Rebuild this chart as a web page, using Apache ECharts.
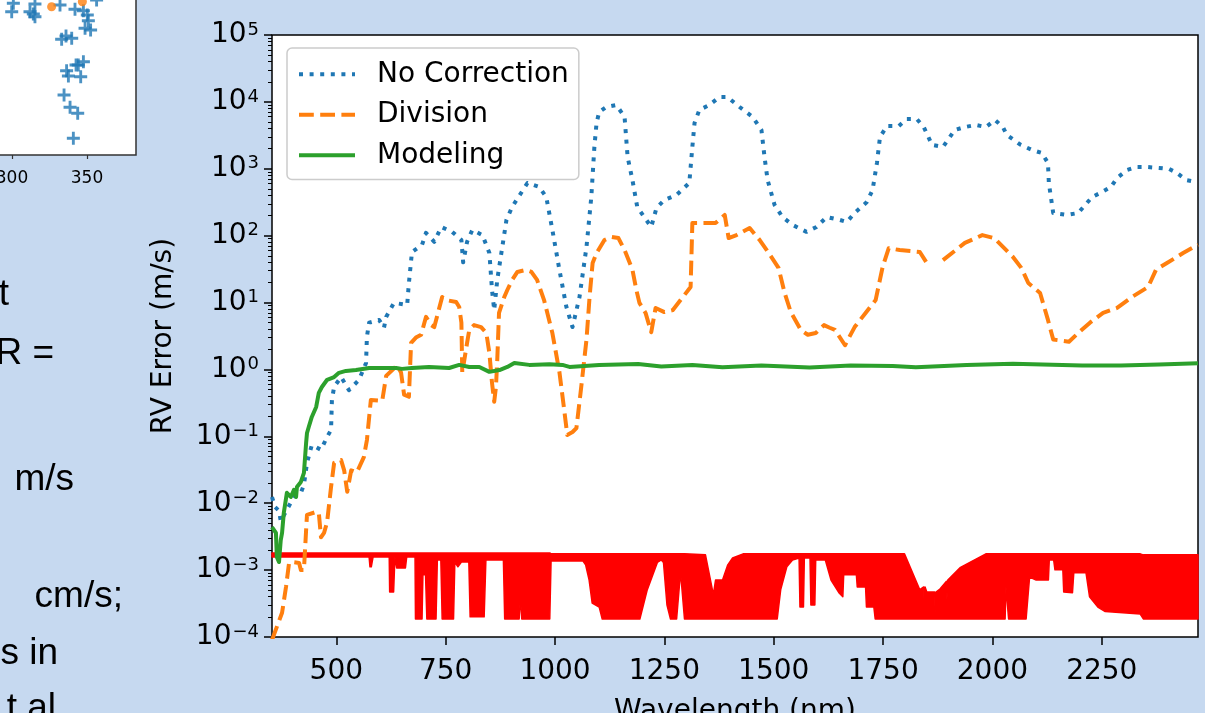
<!DOCTYPE html>
<html>
<head>
<meta charset="utf-8">
<title>RV error vs wavelength</title>
<script src="https://cdn.jsdelivr.net/npm/echarts@6/dist/echarts.min.js"></script>
<style>
  html, body { margin: 0; padding: 0; background: #c6d9f0; }
  #chart { width: 1205px; height: 713px; }
</style>
</head>
<body>
<div id="chart"></div>
<script>
// values: wavelength in nm, RV error in m/s
const noCorrWl = [353,360,369,373,403,419,426,433,444,465,479,488,490,495,511,529,552,568,570,575,
  598,609,614,632,662,666,673,696,705,724,740,765,786,790,799,811,834,850,856,861,
  868,889,902,937,964,980,994,1010,1026,1040,1056,1072,1083,1090,1095,1101,1117,1140,1159,1166,
  1177,1188,1204,1220,1232,1250,1278,1307,1314,1319,1330,1353,1376,1394,1422,1452,1472,1479,1486,1502,
  1520,1543,1575,1598,1621,1651,1667,1685,1713,1726,1736,1743,1759,1786,1804,1827,1843,1862,1887,1914,
  1937,1962,1985,2006,2024,2033,2065,2091,2113,2127,2129,2139,2171,2196,2228,2251,2271,2285,2308,2329,
  2356,2381,2404,2422,2443,2466]
const noCorrErr = [0.0124,0.0088,0.0077,0.0054,0.0124,0.0143,0.0188,0.040,0.074,0.063,0.098,0.125,0.35,0.55,0.77,0.49,0.70,1.25,3.1,5.0,
  5.5,4.2,6.1,9.9,9.2,19.6,57,73,110,81,135,114,86,40,81,122,102,55,15.4,7.7,
  22,172,269,613,535,379,122,31,8.6,4.3,12.1,68,379,2120,4840,7060,8390,8990,6000,1500,
  680,269,190,135,259,342,406,613,2120,4840,7570,8990,11800,11800,8390,5950,3800,1500,680,288,
  190,145,114,135,190,172,160,218,319,482,1220,2990,4360,4360,5550,5550,4210,2270,2120,3800,
  4210,4520,4210,5360,4210,3200,2270,1910,1720,1220,613,218,204,218,379,450,535,728,959,1060,
  1060,1030,993,865,680,635]

const divisionWl = [353,376,385,392,399,415,419,426,431,433,454,460,465,472,479,488,495,511,518,525,
  534,547,563,570,579,605,614,639,648,655,666,671,682,694,705,717,724,742,751,774,
  781,786,788,799,804,815,831,843,850,856,861,865,868,872,884,891,902,914,934,946,
  959,975,994,1010,1021,1028,1040,1049,1060,1072,1079,1086,1095,1113,1129,1145,1159,1177,1186,1193,
  1207,1220,1230,1250,1269,1287,1310,1314,1337,1367,1388,1397,1415,1445,1468,1484,1511,1525,1539,1562,
  1578,1596,1615,1628,1640,1663,1685,1710,1733,1749,1763,1788,1834,1850,1862,1887,1937,1977,2004,2047,
  2066,2082,2109,2127,2139,2175,2196,2223,2253,2285,2319,2356,2374,2399,2436,2470]
const divisionErr = [0.00009,0.00023,0.00056,0.00128,0.00132,0.00128,0.0010,0.0010,0.0040,0.0067,0.0074,0.0072,0.0031,0.0036,0.0052,0.0175,0.040,0.044,0.031,0.0148,
  0.031,0.029,0.049,0.088,0.35,0.34,0.80,1.15,0.9,0.42,0.39,2.5,3.0,3.3,6.1,4.6,4.3,12.1,10.9,10.2,
  8.6,5.0,0.89,2.5,3.9,4.6,4.3,3.5,1.76,0.63,0.33,0.55,1.39,7.0,12.1,15.4,21.8,28.7,30.7,28.7,
  21.8,10.9,3.5,0.92,0.25,0.105,0.116,0.133,0.55,2.8,12.1,39,55,86,96,92,61,31,15.4,9.9,
  7.0,3.6,8.3,7.2,7.7,10.9,17.1,155,155,155,204,92,102,130,86,61,33,13.9,7.2,3.9,
  3.3,3.5,4.6,4.2,3.9,2.3,4.3,7.0,10.9,34,65,61,57,39,null,43,78,102,92,48,
  33,19.6,13.9,5.5,2.8,2.6,3.5,5.0,7.0,8.3,12.1,17.1,31,39,55,73]

const modelingWl = [353,362,364,369,373,376,380,387,396,403,408,410,419,426,431,433,437,444,454,460,
  467,479,495,506,522,545,575,598,637,650,673,712,758,781,804,827,850,873,891,907,
  941,987,1017,1033,1101,1190,1243,1314,1383,1472,1582,1676,1772,1825,1941,2047,2205,2294,2381,2470]
const modelingErr = [0.0044,0.0036,0.00157,0.00132,0.0028,0.0036,0.0072,0.0143,0.0124,0.0158,0.0124,0.0175,0.0208,0.0284,0.080,0.112,0.138,0.195,0.275,0.445,
  0.547,0.70,0.77,0.89,0.95,0.98,1.05,1.05,1.05,1.02,1.05,1.09,1.05,1.17,1.09,1.09,0.92,0.98,1.09,1.25,
  1.17,1.2,1.17,1.09,1.17,1.21,1.11,1.17,1.08,1.15,1.07,1.15,1.13,1.08,1.17,1.22,1.15,1.15,1.19,1.24]

// telluric spectrum (red), drawn as the band between its upper and lower envelope
const telluricWl = [353,575,577,580,584,621,622,631,634,638,658,661,680,681,696,698,704,707,728,731,
  739,742,768,771,778,786,803,806,838,842,882,885,918,921,924,988,991,1064,1070,1078,
  1085,1101,1108,1194,1211,1234,1243,1248,1256,1264,1278,1287,1296,1344,1362,1367,1383,1395,1406,1430,
  1508,1516,1530,1543,1558,1560,1568,1570,1583,1585,1594,1596,1618,1631,1649,1658,1660,1689,1691,1710,
  1712,1729,1732,1799,1834,1843,1844,1846,1850,1868,1869,1871,1880,1895,1896,1898,1927,1985,2029,2031,
  2037,2077,2085,2100,2128,2130,2140,2143,2161,2163,2183,2186,2214,2222,2241,2258,2338,2345,2470]
const telluricTop = [0.00181,0.00181,0.00181,0.00181,0.00181,0.00181,0.00181,0.00181,0.00181,0.00181,0.00181,0.00181,0.00181,0.00181,0.00181,0.00181,0.00181,0.00181,0.00181,0.00181,
  0.00181,0.00181,0.00181,0.00181,0.00181,0.00181,0.00181,0.00181,0.00181,0.00181,0.00181,0.00181,0.00181,0.00181,0.00181,0.00181,0.00175,0.00175,0.00175,0.00175,
  0.00175,0.00175,0.00175,0.00175,0.00175,0.00175,0.00175,0.00175,0.00175,0.00175,0.00175,0.00175,0.00175,0.00169,0.00043,0.00071,0.00071,0.0012,0.00152,0.00175,
  0.00175,0.00175,0.00175,0.00175,0.00175,0.00175,0.00175,0.00175,0.00175,0.00175,0.00175,0.00175,0.00175,0.00175,0.00175,0.00175,0.00175,0.00175,0.00175,0.00175,
  0.00175,0.00175,0.00175,0.00175,0.00051,0.00056,0.00026,0.00056,0.00047,0.00047,0.00023,0.00047,0.00052,0.00068,0.00036,0.00071,0.0011,0.00175,0.00175,0.00175,
  0.00175,0.00175,0.00175,0.00175,0.00175,0.00175,0.00175,0.00175,0.00175,0.00175,0.00175,0.00175,0.00175,0.00175,0.00175,0.00175,0.00175,0.00169,0.00169]
const telluricBottom = [0.00157,0.00157,0.00112,0.00112,0.00157,0.00157,0.00047,0.00047,0.00157,0.00108,0.00108,0.00157,0.00157,0.000186,0.000186,0.00085,0.00085,0.000186,0.000186,0.00142,
  0.00142,0.000186,0.000186,0.00132,0.00112,0.00132,0.00132,0.0002,0.0002,0.00142,0.00142,0.000186,0.000186,0.0004,0.000186,0.000186,0.00137,0.00137,0.0012,0.00071,
  0.00032,0.00028,0.000186,0.000186,0.00051,0.0013,0.00142,0.0013,0.0003,0.000186,0.000186,0.00094,0.000186,0.000186,0.000186,0.000186,0.000186,0.000186,0.000186,0.000186,
  0.000186,0.00051,0.00112,0.00142,0.00152,0.00028,0.00028,0.00152,0.00152,0.0003,0.0003,0.00142,0.00142,0.00071,0.00046,0.0004,0.00085,0.00085,0.00056,0.00056,
  0.00028,0.00028,0.000186,0.000186,0.000186,0.000186,0.000186,0.000186,0.000186,0.000186,0.000186,0.000186,0.000186,0.000186,0.000186,0.000186,0.000186,0.000186,0.000186,0.00056,
  0.000186,0.000186,0.00079,0.00071,0.00071,0.00142,0.00142,0.00101,0.00101,0.00047,0.00046,0.00091,0.00091,0.0004,0.00028,0.00024,0.00022,0.000186,0.000186]

const xTicks = [500, 750, 1000, 1250, 1500, 1750, 2000, 2250]
const yTicks = [1e-4, 1e-3, 1e-2, 1e-1, 1, 1e1, 1e2, 1e3, 1e4, 1e5]

// corner of the previous plot on the slide (only its bottom-right part is visible)
const insetX = [300.9,299.8,312,314.2,315.3,315.3,332,342,347.6,350.2,350.9,348.7,352.4,333.1,336,339.8,344.2,347.6,336.4,337.6,345.8,342.7,334.7,338.7,343.8,340.9,356.4]
const insetY = [151.7,143.3,143.3,141,138.3,151,150,145.7,144.3,140,134.3,126.7,125,115.7,119,116.7,90,93.3,84.3,79,78.3,90,60,47.7,41.7,16.7,155]
const insetOrangeX = [326.4, 346.9]
const insetOrangeY = [148.3, 153.3]
const insetTicks = [300, 350]

const FONT = '"DejaVu Sans", sans-serif'
const SLIDE_FONT = '37px "Liberation Sans", Arial, sans-serif'

function pairs(xs, ys) {
  return xs.map((x, i) => [x, ys[i]])
}

let minorTicks = []
for (let e = -4; e < 5; e++) {
  for (let k = 2; k < 10; k++) minorTicks.push(k * Math.pow(10, e))
}

let myChart = echarts.init(document.getElementById('chart'))

const option = {
  animation: false,
  backgroundColor: '#c6d9f0',
  grid: [
    {
      left: 272, top: 35, right: 7, bottom: 76,
      outerBoundsMode: 'none',
      show: true, backgroundColor: '#fff', borderColor: '#000', borderWidth: 1.5
    },
    {
      left: -10, top: -10, width: 146, height: 165,
      outerBoundsMode: 'none',
      show: true, backgroundColor: '#fff', borderColor: '#333', borderWidth: 1.5
    }
  ],
  legend: {
    orient: 'vertical',
    left: 287,
    top: 48,
    padding: [12, 10, 10, 10],
    itemWidth: 56,
    itemHeight: 14,
    itemGap: 12,
    backgroundColor: 'rgba(255,255,255,0.8)',
    borderColor: '#cccccc',
    borderWidth: 1.5,
    borderRadius: 5,
    itemStyle: { opacity: 0 },
    lineStyle: { width: 4 },
    textStyle: {
      fontFamily: FONT, fontSize: 28, color: '#000',
      lineHeight: 28.5, padding: [0, 0, 0, 17]
    },
    data: ['No Correction', 'Division', 'Modeling']
  },
  xAxis: [
    {
      type: 'value',
      gridIndex: 0,
      min: 353,
      max: 2470,
      name: 'Wavelength (nm)',
      nameLocation: 'middle',
      nameGap: 61,
      nameTextStyle: { fontFamily: FONT, fontSize: 28, color: '#000' },
      axisLine: { show: false },
      splitLine: { show: false },
      axisTick: {
        customValues: xTicks, length: 8,
        lineStyle: { color: '#000', width: 1.5 }
      },
      axisLabel: {
        customValues: xTicks, margin: 21,
        formatter: function (v) { return String(v) },
        fontFamily: FONT, fontSize: 28, color: '#000'
      }
    },
    {
      type: 'value',
      gridIndex: 1,
      min: 285.33,
      max: 382.67,
      axisLine: { show: false },
      splitLine: { show: false },
      axisTick: {
        customValues: insetTicks, length: 4,
        lineStyle: { color: '#333', width: 1.2 }
      },
      axisLabel: {
        customValues: insetTicks, margin: 15,
        formatter: function (v) { return String(v) },
        fontFamily: FONT, fontSize: 17, color: '#000'
      }
    }
  ],
  yAxis: [
    {
      type: 'log',
      gridIndex: 0,
      min: 1e-4,
      max: 1e5,
      name: 'RV Error (m/s)',
      nameLocation: 'middle',
      nameRotate: 90,
      nameGap: 94,
      nameTextStyle: { fontFamily: FONT, fontSize: 28, color: '#000' },
      axisLine: { show: false },
      splitLine: { show: false },
      axisTick: {
        customValues: yTicks, length: 8,
        lineStyle: { color: '#000', width: 1.5 }
      },
      axisLabel: {
        customValues: yTicks,
        margin: 13,
        formatter: function (v) {
          const e = Math.round(Math.log10(v))
          return '{b|10}{s|' + (e < 0 ? '\u2212' + -e : e) + '}'
        },
        rich: {
          b: { fontFamily: FONT, fontSize: 28, lineHeight: 28, color: '#000', verticalAlign: 'bottom' },
          s: { fontFamily: FONT, fontSize: 18, lineHeight: 18, color: '#000', verticalAlign: 'top', padding: [0, 0, 18, 1] }
        }
      }
    },
    {
      // minor ticks of the log axis
      type: 'log',
      gridIndex: 0,
      position: 'left',
      min: 1e-4,
      max: 1e5,
      axisLine: { show: false },
      splitLine: { show: false },
      axisLabel: { show: false },
      axisTick: {
        customValues: minorTicks, length: 4,
        lineStyle: { color: '#000', width: 1 }
      }
    },
    {
      type: 'value',
      gridIndex: 1,
      min: 0,
      max: 165,
      show: false
    }
  ],
  series: [
    {
      name: 'telluric',
      type: 'custom',
      xAxisIndex: 0,
      yAxisIndex: 0,
      silent: true,
      data: [[telluricWl[0], telluricTop[0]]],
      renderItem: function (params, api) {
        let pts = []
        for (let i = 0; i < telluricWl.length; i++) {
          pts.push(api.coord([telluricWl[i], telluricTop[i]]))
        }
        for (let i = telluricWl.length - 1; i >= 0; i--) {
          pts.push(api.coord([telluricWl[i], telluricBottom[i]]))
        }
        return {
          type: 'polygon',
          shape: { points: pts },
          style: { fill: '#ff0000', stroke: '#ff0000', lineWidth: 1.5, lineJoin: 'round' }
        }
      }
    },
    {
      name: 'No Correction',
      type: 'line',
      xAxisIndex: 0,
      yAxisIndex: 0,
      symbol: 'none',
      clip: true,
      lineStyle: { color: '#1f77b4', width: 4, type: [4, 6.6], cap: 'butt', join: 'round' },
      itemStyle: { color: '#1f77b4' },
      data: pairs(noCorrWl, noCorrErr)
    },
    {
      name: 'Division',
      type: 'line',
      xAxisIndex: 0,
      yAxisIndex: 0,
      symbol: 'none',
      clip: true,
      connectNulls: false,
      lineStyle: { color: '#ff7f0e', width: 4, type: [14.8, 6.4], cap: 'butt', join: 'round' },
      itemStyle: { color: '#ff7f0e' },
      data: pairs(divisionWl, divisionErr)
    },
    {
      name: 'Modeling',
      type: 'line',
      xAxisIndex: 0,
      yAxisIndex: 0,
      symbol: 'none',
      clip: true,
      lineStyle: { color: '#2ca02c', width: 4, join: 'round' },
      itemStyle: { color: '#2ca02c' },
      data: pairs(modelingWl, modelingErr)
    },
    {
      type: 'scatter',
      xAxisIndex: 1,
      yAxisIndex: 2,
      silent: true,
      symbol: 'path://M3.9,0H6.1V3.9H10V6.1H6.1V10H3.9V6.1H0V3.9H3.9Z',
      symbolSize: 13,
      itemStyle: { color: '#1f77b4' },
      data: pairs(insetX, insetY)
    },
    {
      type: 'scatter',
      xAxisIndex: 1,
      yAxisIndex: 2,
      silent: true,
      symbol: 'circle',
      symbolSize: 9,
      itemStyle: { color: '#ff7f0e' },
      data: pairs(insetOrangeX, insetOrangeY)
    }
  ],
  graphic: [
    { type: 'text', x: 9, y: 295, style: { text: 't', font: SLIDE_FONT, fill: '#000', align: 'right', verticalAlign: 'middle' } },
    { type: 'text', x: 54, y: 354, style: { text: 'R =', font: SLIDE_FONT, fill: '#000', align: 'right', verticalAlign: 'middle' } },
    { type: 'text', x: 74, y: 480, style: { text: 'm/s', font: SLIDE_FONT, fill: '#000', align: 'right', verticalAlign: 'middle' } },
    { type: 'text', x: 123, y: 597, style: { text: 'cm/s;', font: SLIDE_FONT, fill: '#000', align: 'right', verticalAlign: 'middle' } },
    { type: 'text', x: 58, y: 654, style: { text: 's in', font: SLIDE_FONT, fill: '#000', align: 'right', verticalAlign: 'middle' } },
    { type: 'text', x: 56, y: 709, style: { text: 't al', font: SLIDE_FONT, fill: '#000', align: 'right', verticalAlign: 'middle' } }
  ]
}

myChart.setOption(option)
</script>
</body>
</html>
